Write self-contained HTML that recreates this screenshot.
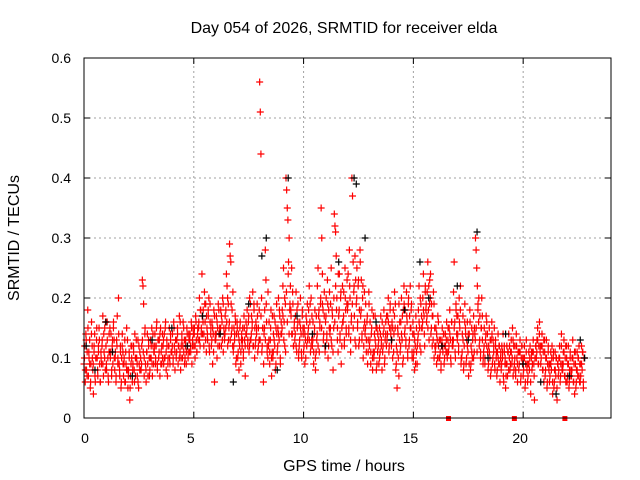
<!DOCTYPE html>
<html><head><meta charset="utf-8"><style>
body{margin:0;background:#fff}
svg{display:block;font-family:"Liberation Sans",sans-serif}
</style></head><body>
<svg id="chart" width="640" height="480">
<text x="344" y="33" text-anchor="middle" font-size="16">Day 054 of 2026, SRMTID for receiver elda</text>
<text transform="translate(19,238) rotate(-90)" text-anchor="middle" font-size="16">SRMTID / TECUs</text>
<text x="344" y="471" text-anchor="middle" font-size="16">GPS time / hours</text>
<g id="grid"></g>
<g id="ticks"></g>
<g id="red"></g>
<g id="black"></g>
<rect x="84" y="58" width="527" height="360" fill="none" stroke="#000" stroke-width="1"/>
</svg>
<script>
const xTicks=[0,5,10,15,20];
const yTicks=[0,0.1,0.2,0.3,0.4,0.5,0.6];
const yTickLabels=["0","0.1","0.2","0.3","0.4","0.5","0.6"];
const bucketStart=0, bucketWidth=0.2;
const redBuckets=[
[9,12,6,14,8,11,18],[7,10,13,5,9,16,12],[8,4,11,14,6,10,13],[10,7,12,15,9,6,11],[9,13,17,7,11,15,8],
[12,8,16,10,6,14,11],[10,14,7,12,9,16,13],[8,11,6,13,17,10,20],[9,7,12,5,10,14,11],[7,10,13,6,9,15,8],
[5,8,11,3,7,12,10],[6,9,12,8,14,7,10],[10,7,13,5,9,11,8],[8,12,23,22,19,10,14],[9,6,11,14,7,12,10],
[8,13,10,15,7,12,9],[11,14,9,12,16,8,13],[10,13,7,15,11,9,14],[12,9,14,10,16,8,13],[7,10,12,15,9,13,11],
[11,14,9,16,12,8,13],[10,13,15,9,12,17,11],[8,12,14,10,16,11,13],[10,13,9,15,12,11,14],[11,14,12,16,9,13,15],
[12,15,10,17,13,11,14],[13,16,20,12,18,15,24],[14,18,12,21,16,19,11],[15,13,18,20,11,16,14],[12,16,9,14,18,6,13],
[13,17,10,15,19,14,12],[14,18,12,16,20,11,15],[13,17,15,24,22,12,19],[15,29,27,26,14,18,12],[11,15,13,17,9,14,16],
[10,14,8,12,16,11,13],[12,15,10,17,13,7,14],[14,18,12,16,11,20,13],[13,17,15,21,12,18,10],[12,16,14,19,11,15,13],
[56,51,44,20,12,15,6],[14,18,28,23,16,12,10],[12,16,9,13,18,7,11],[10,14,17,12,8,15,19],[11,15,20,13,17,9,14],
[14,18,22,25,16,12,19],[40,38,35,33,26,30,18],[22,17,25,14,19,12,15],[13,17,21,11,15,19,10],[12,16,20,14,10,18,15],
[11,15,9,13,17,12,19],[14,18,22,16,11,20,13],[12,16,9,14,18,8,11],[13,22,25,17,11,15,19],[35,30,24,18,14,21,12],
[16,20,13,23,10,18,15],[14,19,25,12,17,8,15],[34,32,31,27,20,15,11],[17,24,13,20,9,15,22],[16,21,12,25,18,14,19],
[18,24,14,28,20,11,16],[40,37,26,21,17,13,23],[19,25,15,22,12,18,28],[17,23,13,20,10,15,21],[14,19,11,16,9,13,21],
[12,16,9,14,18,8,11],[10,14,17,12,8,15,11],[12,9,15,11,17,13,8],[11,14,18,9,13,16,12],[13,17,20,11,15,19,14],
[12,16,10,18,14,21,15],[8,12,5,15,10,19,13],[11,16,20,13,9,18,22],[14,18,12,21,16,10,19],[12,17,22,15,19,10,14],
[10,14,8,12,17,11,9],[13,18,22,15,20,11,17],[15,20,24,17,12,22,18],[16,21,26,18,13,23,20],[14,19,12,17,21,10,15],
[11,15,9,13,17,12,10],[10,13,8,12,15,11,14],[9,12,14,11,16,10,13],[11,15,18,13,9,16,12],[12,21,26,16,10,18,14],
[13,17,11,20,15,22,9],[10,14,17,8,12,19,15],[9,13,16,11,7,14,18],[8,12,15,10,14,17,11],[14,30,28,25,22,19,16],
[12,17,10,15,20,13,9],[11,15,9,13,17,12,14],[8,12,15,10,7,13,16],[9,13,11,15,8,12,10],[7,11,14,9,12,6,10],
[8,12,10,14,6,11,9],[5,9,12,7,11,14,10],[8,11,13,9,15,7,12],[9,12,7,14,10,6,11],[8,11,13,6,10,12,9],
[7,10,12,5,9,13,8],[6,9,11,8,12,4,10],[8,11,13,9,3,10,12],[10,13,15,9,12,16,11],[9,12,14,8,11,6,13],
[7,10,13,5,9,12,8],[6,9,11,8,12,4,10],[5,8,11,7,10,3,9],[7,10,12,6,9,14,8],[8,11,13,7,10,6,12],
[6,9,12,5,8,11,7],[7,10,13,6,9,4,11],[5,8,11,7,10,12,6],[6,9,12,8,11,5,10]
];
const redBuckets2=[
[10,8,13,7,15],[11,9,6,14,10],[9,12,7,10,15],[8,11,13,6,10],[12,9,14,10,16],
[9,13,7,11,15],[11,8,13,15,10],[10,7,12,9,14],[8,11,6,12,9],[9,6,11,8,13],
[7,10,5,9,12],[8,11,6,10,13],[9,6,12,8,10],[9,13,11,7,15],[8,11,9,13,7],
[10,12,9,14,11],[12,10,15,9,13],[11,14,9,12,10],[13,10,15,11,12],[9,12,10,14,11],
[12,10,15,11,13],[11,14,12,10,16],[10,13,12,15,9],[12,11,14,10,13],[13,11,15,12,14],
[14,12,16,11,15],[15,13,18,14,17],[16,14,19,13,17],[14,17,12,19,15],[13,15,11,17,14],
[14,16,12,18,15],[15,17,13,19,14],[14,18,16,20,13],[16,13,19,15,21],[12,14,16,10,15],
[11,13,15,9,14],[13,11,15,12,16],[15,13,17,12,19],[14,16,12,19,15],[13,15,17,12,18],
[13,17,11,15,9],[15,13,19,11,21],[13,11,15,10,17],[11,13,16,9,14],[12,14,18,10,16],
[15,17,13,20,11],[21,16,24,14,19],[18,14,21,12,16],[14,12,18,16,11],[13,15,11,17,14],
[12,14,10,16,13],[15,13,19,12,17],[13,11,15,10,17],[14,12,18,16,20],[15,19,13,17,11],
[17,14,19,12,21],[15,13,18,11,20],[16,22,18,13,24],[18,14,21,12,16],[17,13,20,15,23],
[19,15,22,13,17],[19,15,22,27,12],[20,16,23,13,26],[18,14,22,12,16],[15,13,17,11,19],
[13,11,15,10,17],[11,13,15,9,14],[13,10,14,12,16],[12,15,10,14,17],[14,16,12,18,15],
[13,15,11,17,19],[9,11,14,7,16],[12,14,17,10,19],[15,13,17,11,20],[13,15,18,11,16],
[11,13,9,15,12],[14,16,12,19,15],[16,18,14,21,19],[17,15,22,19,24],[15,17,13,19,12],
[12,14,10,16,13],[11,9,13,12,14],[10,12,13,11,15],[12,14,10,16,13],[13,15,11,19,17],
[14,12,16,18,10],[11,13,9,16,14],[10,12,14,9,16],[9,11,13,10,15],[13,15,11,18,20],
[13,11,15,17,10],[12,10,14,16,11],[9,11,13,8,14],[10,12,9,13,11],[8,10,12,9,11],
[9,11,7,12,10],[7,9,11,8,12],[9,11,10,13,8],[10,8,12,9,11],[9,11,7,12,10],
[8,10,6,11,9],[7,9,10,6,11],[9,11,7,10,12],[11,13,9,14,12],[10,12,8,13,11],
[8,10,6,11,9],[7,9,10,6,11],[6,8,10,5,9],[8,10,7,12,9],[9,11,7,12,10],
[7,9,6,10,8],[8,10,6,11,9],[6,8,10,7,9],[7,9,11,6,10]
];
const blackHours=[0.1,0.5,1.0,1.3,2.2,3.1,4.0,4.7,5.4,6.2,6.8,7.5,8.1,8.3,8.8,9.3,9.7,10.4,11.0,11.6,12.3,12.4,12.8,13.3,14.0,14.6,15.3,15.7,16.3,17.0,17.5,17.9,18.4,19.2,20.0,20.8,21.5,22.1,22.6,22.8];
const blackValues=[0.12,0.08,0.16,0.11,0.07,0.13,0.15,0.12,0.17,0.14,0.06,0.19,0.27,0.30,0.08,0.40,0.17,0.14,0.12,0.26,0.40,0.39,0.30,0.16,0.13,0.18,0.26,0.20,0.12,0.22,0.13,0.31,0.10,0.14,0.09,0.06,0.04,0.07,0.13,0.10];
const flagHours=[16.6,19.6,21.9];

const NS="http://www.w3.org/2000/svg";
const X0=84,X1=611,Y0=418,Y1=58,XMAX=24,YMAX=0.6;
function xs(h){return X0+(X1-X0)*h/XMAX;}
function ys(v){return Y0-(Y0-Y1)*v/YMAX;}
function mk(tag,attrs,parent){const e=document.createElementNS(NS,tag);for(const k in attrs)e.setAttribute(k,attrs[k]);parent.appendChild(e);return e;}
const grid=document.getElementById('grid'),ticks=document.getElementById('ticks');
yTicks.forEach((v,i)=>{
  const y=ys(v);
  if(i>0&&i<yTicks.length-1){const l=mk('line',{x1:X0,x2:X1,y1:y,y2:y,stroke:'#a0a0a0','stroke-dasharray':'2,3'},grid);
  
  }
  const t=mk('line',{x1:X0,x2:X0+6,y1:y,y2:y,stroke:'#000'},ticks);
  
  
  const t2=mk('line',{x1:X1-6,x2:X1,y1:y,y2:y,stroke:'#000'},ticks);
  
  
  const lb=mk('text',{x:X0-13,y:y+5,'text-anchor':'end','font-size':14},ticks);
  lb.textContent=yTickLabels[i];
  
  
});
xTicks.forEach(h=>{
  const x=xs(h);
  if(h>0){const l=mk('line',{x1:x,x2:x,y1:Y0,y2:Y1,stroke:'#a0a0a0','stroke-dasharray':'2,3'},grid);
  
  }
  const t=mk('line',{x1:x,x2:x,y1:Y0,y2:Y0-6,stroke:'#000'},ticks);
  
  
  const t2=mk('line',{x1:x,x2:x,y1:Y1,y2:Y1+6,stroke:'#000'},ticks);
  
  
  const lb=mk('text',{x:h===0?x+1:x-3,y:Y0+25,'text-anchor':'middle','font-size':14},ticks);
  lb.textContent=String(h);
  
  
});
function plus(g,h,v,color,name){
  const x=xs(h),y=ys(v);
  const p=mk('path',{d:`M${x-3.5},${y}H${x+3.5}M${x},${y-3.5}V${y+3.5}`,stroke:color,'stroke-width':1.2,fill:'none'},g);
  
  
}
const red=document.getElementById('red'),black=document.getElementById('black');
redBuckets.forEach((vals,i)=>{
  vals.forEach((v,k)=>{
    const h=bucketStart+i*bucketWidth+k*bucketWidth/vals.length;
    plus(red,h,v/100,'#ff0000','red-point');
  });
});
redBuckets2.forEach((vals,i)=>{
  vals.forEach((v,k)=>{
    const h=bucketStart+i*bucketWidth+(k+0.5)*bucketWidth/vals.length;
    plus(red,h,v/100,'#ff0000','red-point');
  });
});
blackHours.forEach((h,i)=>plus(black,h,blackValues[i],'#000000','black-point'));
flagHours.forEach(h=>{
  const r=mk('rect',{x:xs(h)-2.5,y:Y0-2,width:5,height:5,fill:'#ff0000'},red);
  
  
});
</script>
</body></html>
